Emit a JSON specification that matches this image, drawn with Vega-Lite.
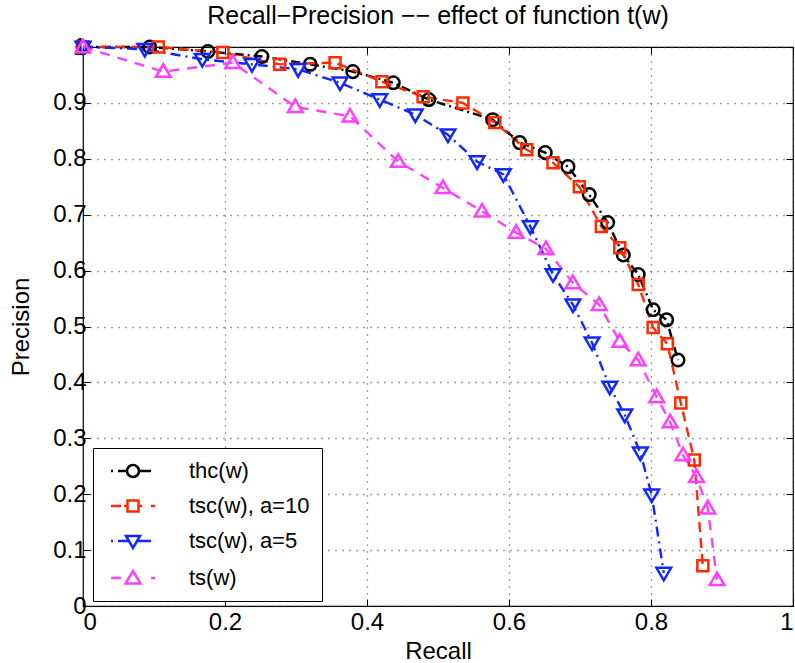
{
  "$schema": "https://vega.github.io/schema/vega-lite/v6.json",
  "autosize": "none",
  "padding": {"left": 83, "top": 47, "right": 2, "bottom": 57},
  "width": 710,
  "height": 559,
  "title": {"text": "Recall−Precision −− effect of function t(w)", "font": "Liberation Sans", "fontSize": 25, "fontWeight": "normal", "offset": 6, "color": "black"},
  "config": {
    "view": {"stroke": "black", "strokeWidth": 1.2},
    "font": "Liberation Sans"
  },
  "data": {"values": [
    {"s": "thc(w)", "r": 0, "p": 1},
    {"s": "thc(w)", "r": 0.094, "p": 1.0},
    {"s": "thc(w)", "r": 0.176, "p": 0.992},
    {"s": "thc(w)", "r": 0.252, "p": 0.983},
    {"s": "thc(w)", "r": 0.32, "p": 0.969},
    {"s": "thc(w)", "r": 0.38, "p": 0.956},
    {"s": "thc(w)", "r": 0.437, "p": 0.936},
    {"s": "thc(w)", "r": 0.487, "p": 0.906},
    {"s": "thc(w)", "r": 0.577, "p": 0.87},
    {"s": "thc(w)", "r": 0.615, "p": 0.829},
    {"s": "thc(w)", "r": 0.651, "p": 0.811},
    {"s": "thc(w)", "r": 0.683, "p": 0.786},
    {"s": "thc(w)", "r": 0.713, "p": 0.736},
    {"s": "thc(w)", "r": 0.739, "p": 0.686},
    {"s": "thc(w)", "r": 0.761, "p": 0.628},
    {"s": "thc(w)", "r": 0.782, "p": 0.593},
    {"s": "thc(w)", "r": 0.803, "p": 0.53},
    {"s": "thc(w)", "r": 0.822, "p": 0.512},
    {"s": "thc(w)", "r": 0.838, "p": 0.44},
    {"s": "tsc(w), a=10", "r": 0, "p": 1},
    {"s": "tsc(w), a=10", "r": 0.106, "p": 1.0},
    {"s": "tsc(w), a=10", "r": 0.197, "p": 0.99},
    {"s": "tsc(w), a=10", "r": 0.277, "p": 0.969},
    {"s": "tsc(w), a=10", "r": 0.355, "p": 0.972},
    {"s": "tsc(w), a=10", "r": 0.421, "p": 0.938},
    {"s": "tsc(w), a=10", "r": 0.479, "p": 0.911},
    {"s": "tsc(w), a=10", "r": 0.535, "p": 0.9},
    {"s": "tsc(w), a=10", "r": 0.58, "p": 0.865},
    {"s": "tsc(w), a=10", "r": 0.625, "p": 0.816},
    {"s": "tsc(w), a=10", "r": 0.662, "p": 0.793},
    {"s": "tsc(w), a=10", "r": 0.699, "p": 0.75},
    {"s": "tsc(w), a=10", "r": 0.73, "p": 0.679},
    {"s": "tsc(w), a=10", "r": 0.756, "p": 0.641},
    {"s": "tsc(w), a=10", "r": 0.782, "p": 0.575},
    {"s": "tsc(w), a=10", "r": 0.803, "p": 0.498},
    {"s": "tsc(w), a=10", "r": 0.823, "p": 0.469},
    {"s": "tsc(w), a=10", "r": 0.842, "p": 0.363},
    {"s": "tsc(w), a=10", "r": 0.861, "p": 0.261},
    {"s": "tsc(w), a=10", "r": 0.873, "p": 0.072},
    {"s": "tsc(w), a=5", "r": 0, "p": 1},
    {"s": "tsc(w), a=5", "r": 0.087, "p": 0.996},
    {"s": "tsc(w), a=5", "r": 0.168, "p": 0.978},
    {"s": "tsc(w), a=5", "r": 0.238, "p": 0.969},
    {"s": "tsc(w), a=5", "r": 0.303, "p": 0.96},
    {"s": "tsc(w), a=5", "r": 0.362, "p": 0.936},
    {"s": "tsc(w), a=5", "r": 0.418, "p": 0.906},
    {"s": "tsc(w), a=5", "r": 0.468, "p": 0.879},
    {"s": "tsc(w), a=5", "r": 0.514, "p": 0.843},
    {"s": "tsc(w), a=5", "r": 0.555, "p": 0.795},
    {"s": "tsc(w), a=5", "r": 0.592, "p": 0.772},
    {"s": "tsc(w), a=5", "r": 0.63, "p": 0.679},
    {"s": "tsc(w), a=5", "r": 0.662, "p": 0.593},
    {"s": "tsc(w), a=5", "r": 0.69, "p": 0.539},
    {"s": "tsc(w), a=5", "r": 0.717, "p": 0.471},
    {"s": "tsc(w), a=5", "r": 0.742, "p": 0.392},
    {"s": "tsc(w), a=5", "r": 0.763, "p": 0.342},
    {"s": "tsc(w), a=5", "r": 0.785, "p": 0.274},
    {"s": "tsc(w), a=5", "r": 0.801, "p": 0.199},
    {"s": "tsc(w), a=5", "r": 0.818, "p": 0.059},
    {"s": "ts(w)", "r": 0, "p": 1},
    {"s": "ts(w)", "r": 0.113, "p": 0.956},
    {"s": "ts(w)", "r": 0.211, "p": 0.972},
    {"s": "ts(w)", "r": 0.299, "p": 0.893},
    {"s": "ts(w)", "r": 0.376, "p": 0.876},
    {"s": "ts(w)", "r": 0.444, "p": 0.795},
    {"s": "ts(w)", "r": 0.507, "p": 0.748},
    {"s": "ts(w)", "r": 0.562, "p": 0.706},
    {"s": "ts(w)", "r": 0.61, "p": 0.668},
    {"s": "ts(w)", "r": 0.652, "p": 0.639},
    {"s": "ts(w)", "r": 0.69, "p": 0.578},
    {"s": "ts(w)", "r": 0.727, "p": 0.539},
    {"s": "ts(w)", "r": 0.756, "p": 0.473},
    {"s": "ts(w)", "r": 0.782, "p": 0.44},
    {"s": "ts(w)", "r": 0.808, "p": 0.374},
    {"s": "ts(w)", "r": 0.827, "p": 0.329},
    {"s": "ts(w)", "r": 0.845, "p": 0.27},
    {"s": "ts(w)", "r": 0.864, "p": 0.231},
    {"s": "ts(w)", "r": 0.88, "p": 0.175},
    {"s": "ts(w)", "r": 0.893, "p": 0.047}
  ]},
  "encoding": {
    "color": {"field": "s", "type": "nominal",
      "scale": {"domain": ["thc(w)", "tsc(w), a=10", "tsc(w), a=5", "ts(w)"], "range": ["#000000", "#ff2a00", "#1028ff", "#ff40ff"]},
      "legend": {"title": null, "orient": "none", "legendX": 10, "legendY": 401, "fillColor": "white", "strokeColor": "black", "padding": 12,
        "labelFontSize": 22, "labelColor": "black", "symbolSize": 100, "symbolStrokeWidth": 2.5, "rowPadding": 13, "symbolOffset": 17, "labelOffset": 45, "symbolFillColor": "transparent",
        "encode": {"symbols": {"update": {
          "strokeDash": {"value": []},
          "fill": {"value": "transparent"},
          "stroke": {"scale": "color", "field": "value"},
          "strokeWidth": {"value": 2.5},
          "opacity": {"value": 1},
          "shape": {"signal": "datum.value === 'thc(w)' ? 'M-4.4,0H-4.0M-3.0,0H-1.2M-1.2,0A1.2,1.2 0 1,0 1.2,0A1.2,1.2 0 1,0 -1.2,0M1.2,0H3.6' : datum.value === 'tsc(w), a=10' ? 'M-4.4,0H-2.4M-1.8,0H-1.1M-1.1,-1.1H1.1V1.1H-1.1ZM1.1,0H1.8M3.6,0H4.4' : datum.value === 'tsc(w), a=5' ? 'M-4.4,0H-4.0M-3.0,0H-1.0M-1.4,-1.0L1.4,-1.0L0,1.4ZM1.0,0H3.6' : 'M-4.4,0H-2.4M-1.5,1.1L1.5,1.1L0,-1.4ZM3.6,0H4.4'"}
        }}}}}
  },
  "resolve": {"axis": {"x": "independent", "y": "independent"}},
  "layer": [
    {
      "encoding": {
        "x": {"field": "r", "type": "quantitative", "scale": {"domain": [0, 1], "nice": false},
          "axis": {"orient": "bottom", "title": "Recall", "values": [0, 0.2, 0.4, 0.6, 0.8, 1], "format": "~g", "grid": true, "gridDash": [1, 6], "gridColor": "#444", "gridWidth": 1.3,
            "tickSize": -7, "tickColor": "black", "domain": false, "labelFontSize": 24, "labelColor": "black", "labelPadding": 11, "titleFontSize": 24, "titleFontWeight": "normal", "titleColor": "black", "titlePadding": 5}},
        "y": {"field": "p", "type": "quantitative", "scale": {"domain": [0, 1], "nice": false},
          "axis": {"orient": "left", "title": "Precision", "values": [0, 0.1, 0.2, 0.3, 0.4, 0.5, 0.6, 0.7, 0.8, 0.9, 1], "format": "~g", "grid": true, "gridDash": [1, 6], "gridColor": "#444", "gridWidth": 1.3,
            "tickSize": -7, "tickColor": "black", "domain": false, "labelFontSize": 24, "labelColor": "black", "labelPadding": 4, "titleFontSize": 24, "titleFontWeight": "normal", "titleColor": "black", "titlePadding": 19}}
      },
      "layer": [
        {"transform": [{"filter": "datum.s === 'thc(w)'"}], "mark": {"type": "line", "strokeWidth": 2.4, "strokeDash": [9, 4, 2, 4]}},
        {"transform": [{"filter": "datum.s === 'tsc(w), a=10'"}], "mark": {"type": "line", "strokeWidth": 2.4, "strokeDash": [10, 6]}},
        {"transform": [{"filter": "datum.s === 'tsc(w), a=5'"}], "mark": {"type": "line", "strokeWidth": 2.4, "strokeDash": [10, 5, 2, 5]}},
        {"transform": [{"filter": "datum.s === 'ts(w)'"}], "mark": {"type": "line", "strokeWidth": 2.4, "strokeDash": [10, 8]}}
      ]
    },
    {
      "encoding": {
        "x": {"field": "r", "type": "quantitative", "scale": {"domain": [0, 1], "nice": false},
          "axis": {"orient": "top", "title": null, "values": [0, 0.2, 0.4, 0.6, 0.8, 1], "labels": false, "grid": false, "tickSize": -7, "tickColor": "black", "domain": false}},
        "y": {"field": "p", "type": "quantitative", "scale": {"domain": [0, 1], "nice": false},
          "axis": {"orient": "right", "title": null, "values": [0, 0.1, 0.2, 0.3, 0.4, 0.5, 0.6, 0.7, 0.8, 0.9, 1], "labels": false, "grid": false, "tickSize": -7, "tickColor": "black", "domain": false}}
      },
      "layer": [
        {"transform": [{"filter": "datum.s === 'thc(w)'"}], "mark": {"type": "point", "filled": false, "strokeWidth": 2.5, "size": 110, "opacity": 1, "shape": "M-1.2,0A1.2,1.2 0 1,0 1.2,0A1.2,1.2 0 1,0 -1.2,0Z"}},
        {"transform": [{"filter": "datum.s === 'tsc(w), a=10'"}], "mark": {"type": "point", "filled": false, "strokeWidth": 2.5, "size": 110, "opacity": 1, "shape": "M-1.05,-1.05H1.05V1.05H-1.05Z"}},
        {"transform": [{"filter": "datum.s === 'tsc(w), a=5'"}], "mark": {"type": "point", "filled": false, "strokeWidth": 2.5, "size": 110, "opacity": 1, "shape": "M-1.4,-1.0L1.4,-1.0L0,1.4Z"}},
        {"transform": [{"filter": "datum.s === 'ts(w)'"}], "mark": {"type": "point", "filled": false, "strokeWidth": 2.5, "size": 110, "opacity": 1, "shape": "M-1.4,1.0L1.4,1.0L0,-1.4Z"}}
      ]
    }
  ]
}
